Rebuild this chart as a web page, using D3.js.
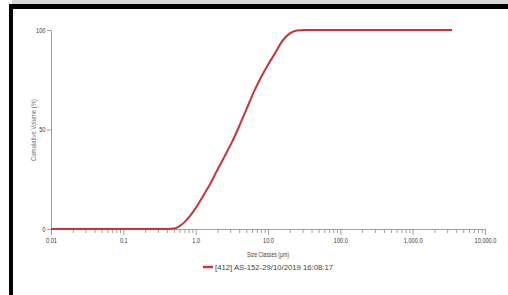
<!DOCTYPE html>
<html lang="en">
<head>
  <meta charset="utf-8">
  <title>Cumulative Volume</title>
  <script src="https://d3js.org/d3.v7.min.js"></script>
  <style>
    body { margin: 0; background: #fff; }
    svg { display: block; }
    .tick text { font-family: "Liberation Sans", Arial, sans-serif; font-size: 7px; fill: #333; }
    .axis path, .axis line { stroke: #a0a0a0; }
    .label { font-family: "Liberation Sans", Arial, sans-serif; font-size: 7px; fill: #444; }
  </style>
</head>
<body>
<script>
  // size classes (um) and cumulative volume (%)
  const sizes = [0.01, 0.1, 0.4, 0.5, 0.63, 0.79, 1.0, 1.26, 1.58, 2.0, 2.51, 3.16, 3.98, 5.01, 6.31, 7.94, 10, 12.6, 15.8, 20, 25.1, 31.6, 100, 1000, 3500];
  const cumVolume = [0, 0, 0, 0.2, 2.0, 5.5, 10.5, 16.5, 22.5, 29.8, 36.5, 43.5, 51.5, 60, 68.5, 76, 82.5, 88.5, 94.5, 98.3, 99.8, 100, 100, 100, 100];
  const xTickValues = [0.01, 0.1, 1, 10, 100, 1000, 10000];
  const xTickLabels = ["0.01", "0.1", "1.0", "10.0", "100.0", "1,000.0", "10,000.0"];
  const yTickValues = [0, 50, 100];
  const seriesName = "[412] AS-152-29/10/2019 16:08:17";

  const width = 508, height = 295;
  const svg = d3.select("body").append("svg")
    .attr("width", width)
    .attr("height", height);

  // frame bands from the screenshot
  svg.append("rect").attr("x", 12).attr("y", 0).attr("width", width - 12).attr("height", 4).attr("fill", "#d9d9d9");
  svg.append("rect").attr("x", 9).attr("y", 4).attr("width", width - 9).attr("height", 5).attr("fill", "#000");
  svg.append("rect").attr("x", 9).attr("y", 4).attr("width", 4).attr("height", height - 4).attr("fill", "#000");

  const x = d3.scaleLog().domain([0.01, 10000]).range([51, 485]);
  const y = d3.scaleLinear().domain([0, 100]).range([229, 30]);

  // minor ticks
  const minor = [];
  for (let e = -2; e < 4; e++) {
    for (let m = 2; m <= 9; m++) minor.push(m * Math.pow(10, e));
  }

  svg.append("g")
    .attr("class", "axis")
    .attr("transform", "translate(0,229)")
    .call(d3.axisBottom(x).tickValues(minor).tickSize(4).tickFormat(""))
    .call(g => g.select(".domain").remove());

  svg.append("g")
    .attr("class", "axis")
    .attr("transform", "translate(0,229)")
    .call(d3.axisBottom(x).tickValues(xTickValues).tickSize(6).tickSizeOuter(0).tickPadding(3)
      .tickFormat((d, i) => xTickLabels[i]))
    .call(g => g.selectAll(".tick text").attr("transform", "scale(0.8,1)"));

  svg.append("g")
    .attr("class", "axis")
    .attr("transform", "translate(51,0)")
    .call(d3.axisLeft(y).tickValues(yTickValues).tickSize(4).tickSizeOuter(0).tickPadding(2))
    .call(g => g.selectAll(".tick text").attr("transform", "scale(0.8,1)").attr("x", -7));

  const pts = sizes.map((s, i) => [s, cumVolume[i]]);
  svg.append("path")
    .datum(pts)
    .attr("fill", "none")
    .attr("stroke", "#c8343a")
    .attr("stroke-width", 2)
    .attr("d", d3.line().x(d => x(d[0])).y(d => y(d[1])).curve(d3.curveMonotoneX));

  svg.append("text")
    .attr("class", "label")
    .attr("transform", "translate(36,130) rotate(-90)")
    .attr("text-anchor", "middle")
    .style("fill", "#777")
    .attr("textLength", 62)
    .attr("lengthAdjust", "spacingAndGlyphs")
    .text("Cumulative Volume (%)");

  svg.append("text")
    .attr("class", "label")
    .attr("x", 268).attr("y", 257)
    .attr("text-anchor", "middle")
    .attr("textLength", 42)
    .attr("lengthAdjust", "spacingAndGlyphs")
    .text("Size Classes (\u00b5m)");

  svg.append("line")
    .attr("x1", 203).attr("x2", 213).attr("y1", 267).attr("y2", 267)
    .attr("stroke", "#c8343a").attr("stroke-width", 2.5);
  svg.append("text")
    .attr("class", "label")
    .attr("x", 215).attr("y", 269.5)
    .attr("textLength", 118)
    .attr("lengthAdjust", "spacingAndGlyphs")
    .text(seriesName);
</script>
</body>
</html>
